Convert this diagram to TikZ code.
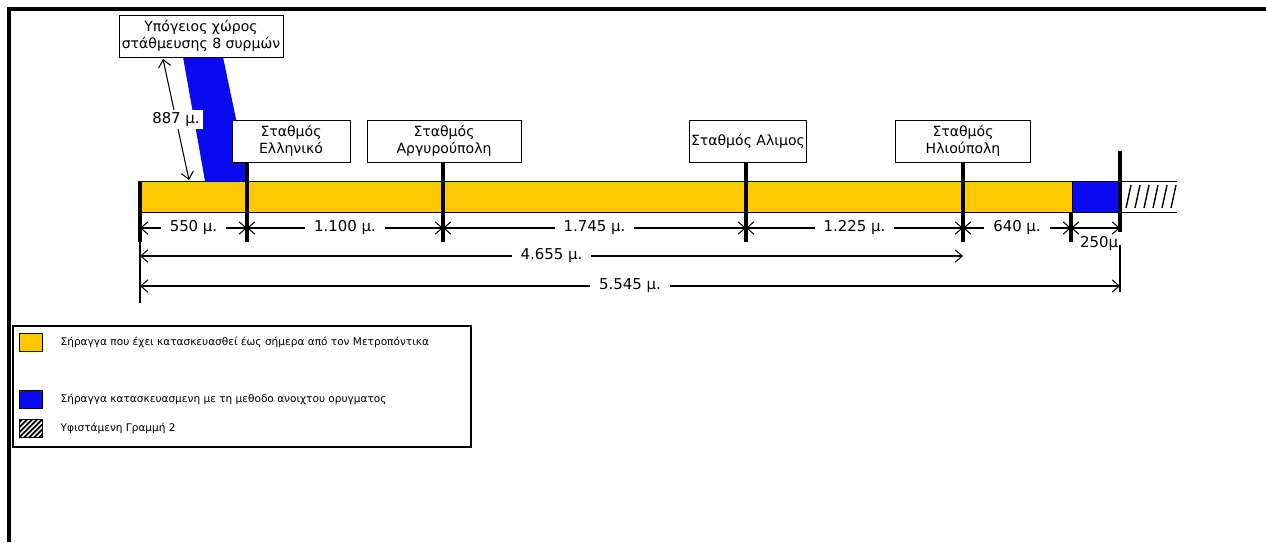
\documentclass[tikz,border=0pt]{standalone}
\usepackage{fontspec}
\setmainfont{DejaVu Sans}
\usetikzlibrary{arrows.meta}
\usetikzlibrary{positioning}
\usetikzlibrary{patterns}
\definecolor{tunnelY}{RGB}{255,200,0}
\definecolor{tunnelB}{RGB}{10,10,240}

\begin{document}
\begin{tikzpicture}[
  x = 0.02cm, y = -0.02cm,
  > = {Straight Barb[length=4pt,width=7pt]},
  stabox/.style = {draw,fill=white,align=center,font=\fontsize{8}{10}\selectfont,minimum height=0.84cm,inner sep=1pt},
  tick/.style = {line width=2.2pt},
  dim/.style = {<->,semithick},
  lab/.style = {fill=white,inner xsep=5pt,inner ysep=1.5pt,font=\fontsize{8.5}{9}\selectfont},
  swatch/.style = {draw,minimum width=0.46cm,minimum height=0.36cm,inner sep=0pt},
  legend/.style = {anchor=west,font=\fontsize{6}{7}\selectfont,inner sep=0pt}
  ]
  \useasboundingbox (0,0) rectangle (1266,542);
  \draw[line width=2pt] (9,542) |- (1266,9);

  \coordinate (k0) at (140,242);
  \coordinate (k1) at (247,242);
  \coordinate (k2) at (443,242);
  \coordinate (k3) at (746,242);
  \coordinate (k4) at (963,242);
  \coordinate (k5) at (1071,242);
  \coordinate (k6) at (1120,232);
  \coordinate (r1) at (0,228);
  \coordinate (r2) at (0,256);
  \coordinate (r3) at (0,286);

  \fill[tunnelB] (183,57) -- (223,57) -- (249,181) -- (205,181) -- cycle;
  \draw[fill=tunnelY] (140,181) rectangle (1072,212);
  \draw[fill=tunnelB] (1072,181) rectangle (1120,212);
  \draw (1120,181) -- (1177,181) (1120,212) -- (1177,212);
  \foreach \i in {0,...,5}
    \draw[thick] (1126+9*\i,208) -- (1131+9*\i,185);

  \node[stabox,minimum width=3.28cm] (@park) at (201,36) {Υπόγειος χώρος\\στάθμευσης 8 συρμών};
  \node[stabox,minimum width=2.36cm] (@ell) at (291,141) {Σταθμός\\Ελληνικό};
  \node[stabox,minimum width=3.08cm] (@arg) at (444,141) {Σταθμός\\Αργυρούπολη};
  \node[stabox,minimum width=2.34cm] (@ali) at (748,141) {Σταθμός Αλιμος};
  \node[stabox,minimum width=2.7cm] (@ili) at (963,141) {Σταθμός\\Ηλιούπολη};

  \draw[tick] (k0) -- ++(0,-61);
  \draw[tick] (@ell.south -| k1) -- (k1);
  \draw[tick] (@arg.south -| k2) -- (k2);
  \draw[tick] (@ali.south -| k3) -- (k3);
  \draw[tick] (@ili.south -| k4) -- (k4);
  \draw[tick] (k5) -- ++(0,-30);
  \draw[tick] (k6) -- ++(0,-81);

  \coordinate (p0) at (163,59);
  \coordinate (p1) at (189,180);
  \draw[dim] (p0) -- node[lab,inner xsep=2pt] {887 μ.} (p1);

  \foreach \a/\b/\t in {k0/k1/550 μ., k1/k2/1.100 μ., k2/k3/1.745 μ., k3/k4/1.225 μ., k4/k5/640 μ.}
    \draw[dim] (\a |- r1) -- node[lab] {\t} (\b |- r1);
  \draw[dim] (k5 |- r1) -- node[below=0.1cm,lab,fill=none,inner xsep=1pt,xshift=2pt] {250μ} (k6 |- r1);
  \draw[dim] (k0 |- r2) -- node[lab] {4.655 μ.} (k4 |- r2);
  \draw[dim] (k0 |- r3) -- node[lab] {5.545 μ.} (k6 |- r3);
  \draw[semithick] (k0) -- ++(0,61);
  \draw[semithick] (k6) ++(0,13) -- ++(0,47);

  \draw[semithick] (13,326) rectangle (471,447);
  \node[swatch,fill=tunnelY] (@ty) at (30.5,342.5) {};
  \node[legend,right=0.36cm of @ty] {Σήραγγα που έχει κατασκευασθεί έως σήμερα από τον Μετροπόντικα};
  \node[swatch,fill=tunnelB] (@tb) at (30.5,399.5) {};
  \node[legend,right=0.36cm of @tb] {Σήραγγα κατασκευασμενη με τη μεθοδο ανοιχτου ορυγματος};
  \node[swatch,path picture={
      \foreach \s in {-0.3,-0.2,...,0.45}
        \draw[line width=1pt] ([xshift=\s cm]path picture bounding box.south west) -- ++(0.45cm,0.45cm);
    }] (@th) at (30.5,428.5) {};
  \node[legend,right=0.36cm of @th] {Υφιστάμενη Γραμμή 2};
\end{tikzpicture}
\end{document}
